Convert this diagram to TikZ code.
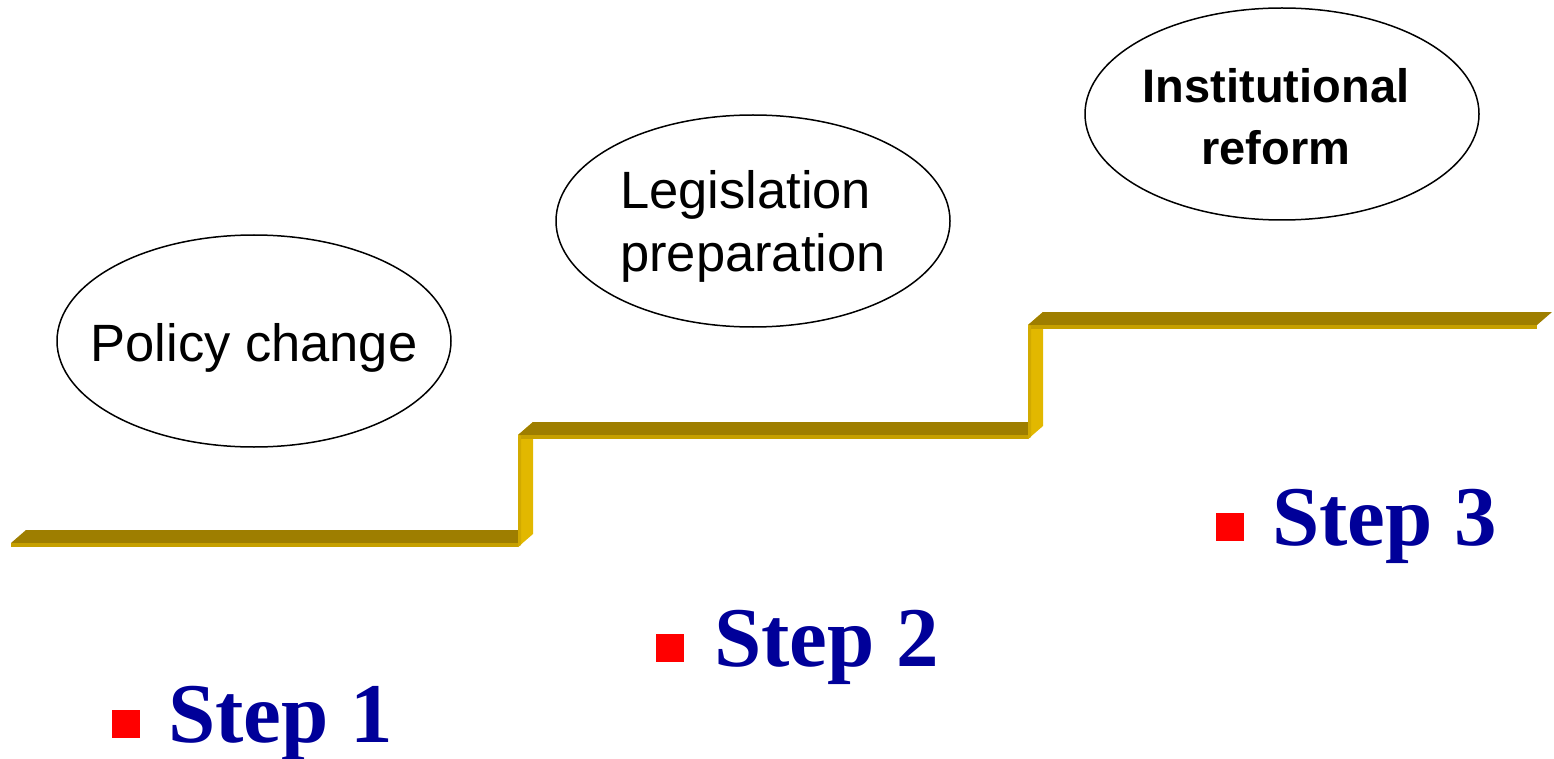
\documentclass[tikz,border=0pt]{standalone}
\usepackage{fontspec}
\setmainfont{Liberation Sans}
\newfontfamily\stepfont{Liberation Serif}
\usetikzlibrary{shapes.geometric}
\definecolor{treadtop}{RGB}{158,126,0}
\definecolor{treadfront}{RGB}{198,160,0}
\definecolor{riserface}{RGB}{226,184,0}
\definecolor{riseredge}{RGB}{210,170,0}
\definecolor{stepblue}{RGB}{0,0,153}

\tikzset{
  bubble/.style={ellipse,draw=black,line width=1.5pt,minimum width=394pt,minimum height=212pt,inner sep=0pt},
  bubbletext/.style={inner sep=0pt,font=\fontsize{52.5}{63}\selectfont},
  bubblebold/.style={inner sep=0pt,align=center,font=\fontsize{47}{62}\selectfont\bfseries},
  bulletbox/.style={fill=red,minimum size=28pt,inner sep=0pt},
  steptext/.style={inner sep=0pt,anchor=base west,text=stepblue,font=\stepfont\fontsize{85}{90}\selectfont\bfseries}
}

\begin{document}
\begin{tikzpicture}[line cap=round,line join=round,x=1pt,y=-1pt]
   \useasboundingbox (0,0) rectangle (1554,759);

   % treads and risers
   \fill[treadtop] (11,543) -- (518,543) -- (533,530) -- (26,530) -- cycle;
   \fill[treadfront] (11,543) -- (518,543) -- (518,547) -- (11,547) -- cycle;
   \fill[riserface] (518,547) -- (533,534) -- (533,422) -- (518,435) -- cycle;
   \fill[riseredge] (518,437) -- (521,434) -- (521,545) -- (518,547) -- cycle;
   \fill[treadtop] (518,435) -- (1028,435) -- (1043,422) -- (533,422) -- cycle;
   \fill[treadfront] (521,435) -- (1028,435) -- (1028,439) -- (521,439) -- cycle;
   \fill[riserface] (1028,439) -- (1043,426) -- (1043,312) -- (1028,325) -- cycle;
   \fill[riseredge] (1028,327) -- (1031,324) -- (1031,437) -- (1028,439) -- cycle;
   \fill[treadtop] (1028,325) -- (1537,325) -- (1552,312) -- (1043,312) -- cycle;
   \fill[treadfront] (1031,325) -- (1537,325) -- (1537,329) -- (1031,329) -- cycle;

   % ellipses
   \node[bubble] (policy) at (254,341) {};
   \node[bubble] (legis) at (753,221) {};
   \node[bubble] (inst) at (1282,114) {};
   \node[bubbletext,anchor=base] (policytext) at (254,361) {Policy change};
   \node[bubbletext,align=left,anchor=base] (legistext) at (753,272) {Legislation\\preparation};
   \node[bubblebold,anchor=base] (insttext) at (1276,165) {Institutional\\reform};

   % steps
   \node[bulletbox] (sq1) at (126,724) {};
   \node[steptext] (step1) at (168,742) {Step 1};
   \node[bulletbox] (sq2) at (670,648) {};
   \node[steptext] (step2) at (714,666) {Step 2};
   \node[bulletbox] (sq3) at (1230,527) {};
   \node[steptext] (step3) at (1272,545) {Step 3};
\end{tikzpicture}
\end{document}
